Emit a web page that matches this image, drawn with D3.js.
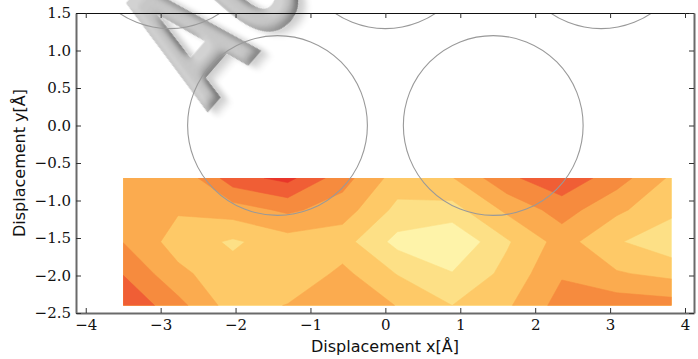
<!DOCTYPE html>
<html>
<head>
<meta charset="utf-8">
<script src="https://cdn.jsdelivr.net/npm/d3@7"></script>
<style>
	body { margin: 0; background: #fff; }
	.tick text { font-family: "DejaVu Serif", serif; font-size: 15px; fill: #111; }
	.tick line { stroke: #333; }
	.axis-label { font-family: "DejaVu Sans", sans-serif; font-size: 16px; fill: #111; }
</style>
</head>
<body>
<div id="chart-area"></div>
<script>

// margin conventions - the plot box is fixed, equal aspect (1 Angstrom ~ 75px on both axes)
let margin = {top: 13, right: 4, bottom: 46, left: 76};

let width = 698 - margin.left - margin.right;
let height = 359 - margin.top - margin.bottom;

// energy map grid
let gridX = [-3.5, -2.768, -2.036, -1.304, -0.572, 0.16, 0.892, 1.624, 2.356, 3.088, 3.82];
let gridY = [-0.7, -1.125, -1.55, -1.975, -2.4];

let energyRow0 = [3.40, 3.08, 5.60, 6.30, 4.40, 2.55, 2.95, 4.78, 5.70, 4.46, 2.83];
let energyRow1 = [3.50, 3.10, 3.50, 4.20, 3.50, 1.72, 1.61, 3.20, 4.45, 3.20, 2.25];
let energyRow2 = [3.97, 2.55, 1.85, 2.53, 2.40, 0.67, 0.05, 1.88, 3.42, 2.10, 1.30];
let energyRow3 = [4.95, 3.25, 2.35, 2.13, 3.26, 1.95, 1.05, 2.30, 3.90, 3.10, 2.70];
let energyRow4 = [5.90, 4.33, 2.51, 3.05, 3.60, 2.97, 2.00, 2.85, 4.40, 4.60, 4.45];

let levels = [-1, 1, 2, 3, 4, 5, 6];
let levelColors = ["#fef3a9", "#fde086", "#fec967", "#fbab4f", "#f68b3e", "#f05e35", "#e8352a"];

// gold atoms of the surface layer
let atomX = [-1.44, 1.44, -2.88, 0, 2.88];
let atomY = [0, 0, 2.49, 2.49, 2.49];
let atomRadius = 1.2;

let xTicks = [-4, -3, -2, -1, 0, 1, 2, 3, 4];
let yTicks = [-2.5, -2.0, -1.5, -1.0, -0.5, 0.0, 0.5, 1.0, 1.5];

let svgRoot = d3.select("#chart-area").append("svg")
	.attr("width", width + margin.left + margin.right)
	.attr("height", height + margin.top + margin.bottom);

let defs = svgRoot.append("defs");

// soft bevel + light shadow for the grey 3D letters
let bevel = defs.append("filter").attr("id", "bevel")
	.attr("x", "-20%").attr("y", "-20%").attr("width", "140%").attr("height", "140%");
bevel.append("feGaussianBlur").attr("in", "SourceAlpha").attr("stdDeviation", 3.5).attr("result", "blur");
let light = bevel.append("feDiffuseLighting").attr("in", "blur").attr("surfaceScale", 3.5)
	.attr("diffuseConstant", 1.12).attr("lighting-color", "#ffffff").attr("result", "lit");
light.append("feDistantLight").attr("azimuth", 235).attr("elevation", 55);
bevel.append("feComposite").attr("in", "lit").attr("in2", "SourceGraphic")
	.attr("operator", "arithmetic").attr("k1", 1).attr("k2", 0).attr("k3", 0).attr("k4", 0).attr("result", "shade");
bevel.append("feComposite").attr("in", "shade").attr("in2", "SourceAlpha").attr("operator", "in").attr("result", "letters");
bevel.append("feOffset").attr("in", "SourceAlpha").attr("dx", 3).attr("dy", 4).attr("result", "off");
bevel.append("feGaussianBlur").attr("in", "off").attr("stdDeviation", 2.5).attr("result", "offBlur");
bevel.append("feComponentTransfer").attr("in", "offBlur").attr("result", "shadow")
	.append("feFuncA").attr("type", "linear").attr("slope", 0.2);
let merge = bevel.append("feMerge");
merge.append("feMergeNode").attr("in", "shadow");
merge.append("feMergeNode").attr("in", "letters");

defs.append("clipPath").attr("id", "plot-clip")
	.append("rect").attr("width", width).attr("height", height);

// the "AU" tip sketch, sitting behind the axes
svgRoot.append("text")
	.attr("transform", "translate(207,113) rotate(-49) scale(1,1.7)")
	.attr("font-family", "DejaVu Sans")
	.attr("font-weight", "bold")
	.attr("font-size", 108)
	.attr("fill", "#d2d2d2")
	.attr("filter", "url(#bevel)")
	.text("AU");

let svg = svgRoot.append("g")
	.attr("transform", "translate(" + margin.left + "," + margin.top + ")");

// scales
let xScale = d3.scaleLinear().domain([-4.13, 4.12]).range([0, width]);
let yScale = d3.scaleLinear().domain([-2.5, 1.5]).range([height, 0]);

// filled contours
let values = [].concat(energyRow0, energyRow1, energyRow2, energyRow3, energyRow4);
let contours = d3.contours()
	.size([gridX.length, gridY.length])
	.thresholds(levels)(values);

let stepX = (gridX[gridX.length - 1] - gridX[0]) / (gridX.length - 1);
let stepY = (gridY[gridY.length - 1] - gridY[0]) / (gridY.length - 1);

let gridProjection = d3.geoTransform({
	point: function(px, py) {
		this.stream.point(xScale(gridX[0] + (px - 0.5) * stepX), yScale(gridY[0] + (py - 0.5) * stepY));
	}
});

defs.append("clipPath").attr("id", "map-clip")
	.append("rect")
	.attr("x", xScale(gridX[0]))
	.attr("y", yScale(gridY[0]))
	.attr("width", xScale(gridX[gridX.length - 1]) - xScale(gridX[0]))
	.attr("height", yScale(gridY[gridY.length - 1]) - yScale(gridY[0]));

svg.append("g")
	.attr("clip-path", "url(#map-clip)")
	.selectAll("path")
	.data(contours)
	.enter().append("path")
	.attr("d", d3.geoPath(gridProjection))
	.attr("fill", (d, i) => levelColors[i])
	.attr("stroke", (d, i) => levelColors[i])
	.attr("stroke-width", 0.6);

// atoms
svg.append("g")
	.attr("clip-path", "url(#plot-clip)")
	.selectAll("circle")
	.data(atomX)
	.enter().append("circle")
	.attr("cx", d => xScale(d))
	.attr("cy", (d, i) => yScale(atomY[i]))
	.attr("r", xScale(atomRadius) - xScale(0))
	.attr("fill", "none")
	.attr("stroke", "#999")
	.attr("stroke-width", 1.1);

// axes, ticks pointing inwards on all four sides
let fmtX = d => d3.format("d")(d).replace("-", "\u2212");
let fmtY = d => d3.format(".1f")(d).replace("-", "\u2212");

let xAxis = d3.axisBottom(xScale).tickValues(xTicks).tickFormat(fmtX)
	.tickSizeInner(-5).tickSizeOuter(0).tickPadding(6);
let yAxis = d3.axisLeft(yScale).tickValues(yTicks).tickFormat(fmtY)
	.tickSizeInner(-5).tickSizeOuter(0).tickPadding(5);
let xAxisTop = d3.axisTop(xScale).tickValues(xTicks).tickFormat("")
	.tickSizeInner(-5).tickSizeOuter(0);
let yAxisRight = d3.axisRight(yScale).tickValues(yTicks).tickFormat("")
	.tickSizeInner(-5).tickSizeOuter(0);

svg.append("g").attr("class", "x axis")
	.attr("transform", "translate(0," + height + ")")
	.call(xAxis);
svg.append("g").attr("class", "y axis")
	.call(yAxis);
svg.append("g").attr("class", "x axis top")
	.call(xAxisTop);
svg.append("g").attr("class", "y axis right")
	.attr("transform", "translate(" + width + ",0)")
	.call(yAxisRight);

svg.selectAll(".axis .domain").attr("stroke", "#6a6a6a").attr("stroke-width", 2);
svg.select(".top .domain").attr("stroke", "#111").attr("stroke-width", 1.2);
svg.selectAll(".tick text").attr("font-family", null).attr("font-size", null);

// axis labels
svgRoot.append("text")
	.attr("class", "axis-label")
	.attr("x", margin.left + width / 2)
	.attr("y", 352)
	.attr("text-anchor", "middle")
	.text("Displacement x[Å]");

svgRoot.append("text")
	.attr("class", "axis-label")
	.attr("transform", "translate(25," + (margin.top + height / 2) + ") rotate(-90)")
	.attr("text-anchor", "middle")
	.text("Displacement y[Å]");

</script>
</body>
</html>
